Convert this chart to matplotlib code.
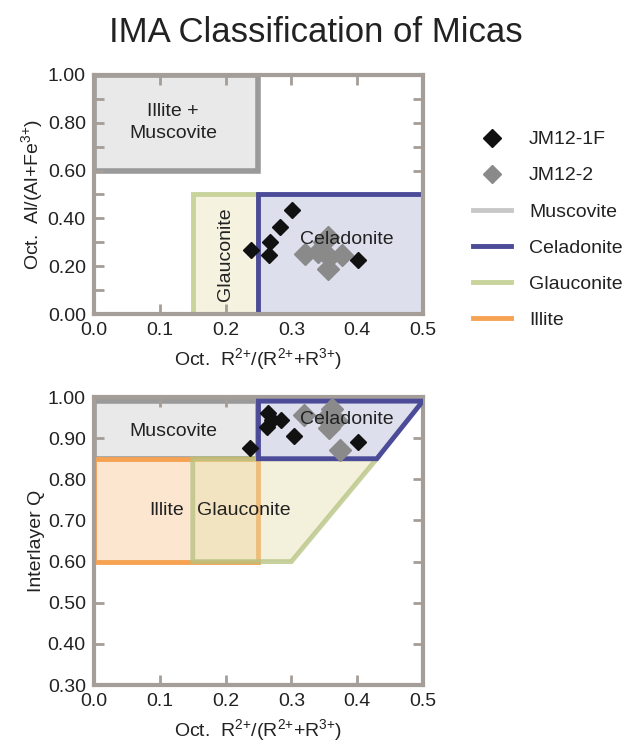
import matplotlib
matplotlib.use('Agg')
import matplotlib.pyplot as plt
from matplotlib.patches import Polygon
from matplotlib.lines import Line2D

plt.rcParams['font.family'] = ['Liberation Sans', 'DejaVu Sans']
plt.rcParams['mathtext.fontset'] = 'custom'
plt.rcParams['mathtext.rm'] = 'Liberation Sans'
plt.rcParams['mathtext.default'] = 'regular'

SPINE = '#a59d97'
TEXT = '#222222'
MUSC_FACE, MUSC_EDGE = '#e9e9e9', '#9a9a9a'
CELA_FACE, CELA_EDGE = '#dde0ec', '#4b4b98'
GLAU_FACE, GLAU_EDGE = '#f5f2e0', '#c9d39c'
ILL_FACE, ILL_EDGE = '#fce6d0', '#f5a252'

# sample data
top_1f_x = [0.239, 0.267, 0.266, 0.282, 0.301, 0.401]
top_1f_y = [0.268, 0.300, 0.247, 0.365, 0.435, 0.226]
top_2_x = [0.321, 0.340, 0.350, 0.356, 0.358, 0.377, 0.356]
top_2_y = [0.250, 0.260, 0.300, 0.320, 0.240, 0.247, 0.190]

bot_1f_x = [0.265, 0.263, 0.270, 0.284, 0.304, 0.237, 0.402]
bot_1f_y = [0.960, 0.927, 0.945, 0.943, 0.905, 0.875, 0.890]
bot_2_x = [0.320, 0.362, 0.357, 0.352, 0.368, 0.374]
bot_2_y = [0.957, 0.972, 0.925, 0.950, 0.945, 0.871]

# field boundaries
top_musc = [(0, 0.6), (0.25, 0.6), (0.25, 1.0), (0, 1.0)]
top_glau = [(0.15, 0), (0.25, 0), (0.25, 0.5), (0.15, 0.5)]
top_cela = [(0.25, 0), (0.5, 0), (0.5, 0.5), (0.25, 0.5)]

bot_musc = [(0, 0.85), (0.25, 0.85), (0.25, 0.99), (0, 0.99)]
bot_ill = [(0, 0.6), (0.25, 0.6), (0.25, 0.85), (0, 0.85)]
bot_glau = [(0.15, 0.6), (0.30, 0.6), (0.43, 0.85), (0.15, 0.85)]
bot_cela = [(0.25, 0.85), (0.43, 0.85), (0.50, 0.99), (0.25, 0.99)]

XLABEL = 'Oct.  R$^{2{+}}$/(R$^{2{+}}$+R$^{3{+}}$)'
YLABEL_TOP = 'Oct.  Al/(Al+Fe$^{3{+}}$)'


def style_axes(ax, ymin, ymax, ymajor, yminor):
    ax.set_xlim(0, 0.5)
    ax.set_ylim(ymin, ymax)
    for s in ax.spines.values():
        s.set_color(SPINE)
        s.set_linewidth(3)
    ax.set_xticks([0, 0.1, 0.2, 0.3, 0.4, 0.5])
    ax.set_xticklabels(['0.0', '0.1', '0.2', '0.3', '0.4', '0.5'])
    ax.set_yticks(ymajor)
    ax.set_yticklabels(['%.2f' % v for v in ymajor])
    ax.set_yticks(yminor, minor=True)
    ax.tick_params(which='both', direction='in', top=True, right=True,
                   color=SPINE, width=2, labelsize=14, labelcolor=TEXT, pad=6)
    ax.tick_params(which='major', length=7)
    ax.tick_params(which='minor', length=7)
    ax.set_xlabel(XLABEL, fontsize=14, color=TEXT, labelpad=5)


def patch(ax, pts, face, edge, lw=3.5, alpha=1.0, z=1):
    ax.add_patch(Polygon(pts, closed=True, facecolor=face, edgecolor='none',
                         alpha=alpha, zorder=z))
    ax.add_patch(Polygon(pts, closed=True, fill=False, edgecolor=edge,
                         linewidth=lw, alpha=alpha, zorder=z + 0.5,
                         joinstyle='miter'))


fig = plt.figure(figsize=(6.32, 7.45), dpi=100)
fig.suptitle('IMA Classification of Micas', fontsize=25, color=TEXT, y=0.978)

ax1 = fig.add_axes([0.149, 0.5785, 0.52, 0.321])
patch(ax1, top_musc, MUSC_FACE, MUSC_EDGE, lw=4)
patch(ax1, top_glau, GLAU_FACE, GLAU_EDGE)
patch(ax1, top_cela, CELA_FACE, CELA_EDGE, z=2)
ax1.plot(top_2_x, top_2_y, 'D', color='#8a8a8a', markersize=11.5, zorder=5)
ax1.plot(top_1f_x, top_1f_y, 'D', color='#111111', markersize=8, zorder=6)
ax1.text(0.12, 0.8, 'Illite +\nMuscovite', ha='center', va='center',
         fontsize=14, color=TEXT, linespacing=1.35, zorder=7)
ax1.text(0.2, 0.25, 'Glauconite', ha='center', va='center', rotation=90,
         fontsize=14, color=TEXT, zorder=7)
ax1.text(0.385, 0.31, 'Celadonite', ha='center', va='center',
         fontsize=14, color=TEXT, zorder=7)
style_axes(ax1, 0, 1.0, [0, 0.2, 0.4, 0.6, 0.8, 1.0],
           [0.1, 0.3, 0.5, 0.7, 0.9])
ax1.set_ylabel(YLABEL_TOP, fontsize=14, color=TEXT, labelpad=2)

ax2 = fig.add_axes([0.149, 0.0805, 0.52, 0.3866])
patch(ax2, bot_musc, MUSC_FACE, MUSC_EDGE, lw=4)
patch(ax2, bot_ill, ILL_FACE, ILL_EDGE, z=2)
ax2.add_patch(Polygon(bot_glau, closed=True, facecolor='#e6e0b0',
                      edgecolor='none', alpha=0.45, zorder=3))
ax2.add_patch(Polygon(bot_glau, closed=True, fill=False, edgecolor='#b5c27f',
                      linewidth=3.5, alpha=0.75, zorder=3.5))
patch(ax2, bot_cela, CELA_FACE, CELA_EDGE, z=4)
ax2.plot(bot_2_x, bot_2_y, 'D', color='#8a8a8a', markersize=11.5, zorder=5)
ax2.plot(bot_1f_x, bot_1f_y, 'D', color='#111111', markersize=8, zorder=6)
ax2.text(0.12, 0.915, 'Muscovite', ha='center', va='center',
         fontsize=14, color=TEXT, zorder=7)
ax2.text(0.385, 0.945, 'Celadonite', ha='center', va='center',
         fontsize=14, color=TEXT, zorder=7)
ax2.text(0.11, 0.725, 'Illite', ha='center', va='center',
         fontsize=14, color=TEXT, zorder=7)
ax2.text(0.227, 0.725, 'Glauconite', ha='center', va='center',
         fontsize=14, color=TEXT, zorder=7)
yt = [0.3, 0.4, 0.5, 0.6, 0.7, 0.8, 0.9, 1.0]
style_axes(ax2, 0.3, 1.0, yt, [])
ax2.set_ylabel('Interlayer Q', fontsize=14, color=TEXT, labelpad=2)

handles = [
    Line2D([], [], marker='D', color='#111111', linestyle='none', markersize=9),
    Line2D([], [], marker='D', color='#8a8a8a', linestyle='none', markersize=9),
    Line2D([], [], color='#c8c8c8', linewidth=3.5),
    Line2D([], [], color=CELA_EDGE, linewidth=3.5),
    Line2D([], [], color=GLAU_EDGE, linewidth=3.5),
    Line2D([], [], color=ILL_EDGE, linewidth=3.5),
]
labels = ['JM12-1F', 'JM12-2', 'Muscovite', 'Celadonite', 'Glauconite', 'Illite']
fig.legend(handles, labels, loc='upper left', bbox_to_anchor=(0.72, 0.848),
           frameon=False, fontsize=14, labelspacing=0.95, handlelength=2.0,
           handletextpad=0.9, labelcolor=TEXT)

fig.savefig('out.png', dpi=100)
